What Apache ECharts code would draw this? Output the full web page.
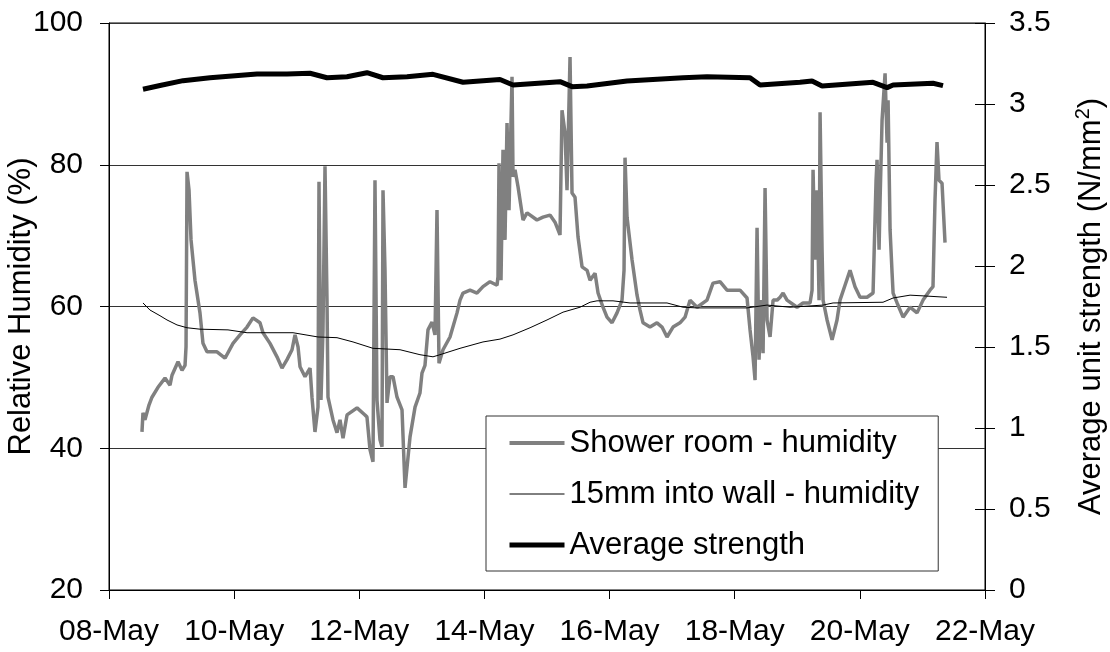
<!DOCTYPE html>
<html>
<head>
<meta charset="utf-8">
<script src="https://cdn.jsdelivr.net/npm/echarts@6/dist/echarts.min.js"></script>
<style>
html,body{margin:0;padding:0;background:#fff;}
#chart{width:1110px;height:652px;}
</style>
</head>
<body>
<div id="chart"></div>
<script>
// x values are days since 08-May 00:00
const dateLabels = ['08-May','10-May','12-May','14-May','16-May','18-May','20-May','22-May'];

const showerDay = [0.527,0.543,0.575,0.639,0.687,0.783,0.895,0.975,1.007,1.103,1.167,1.215,1.231,1.247,1.279,1.311,1.374,1.454,1.502,1.566,1.726,1.854,1.982,2.094,2.206,2.301,2.413,2.461,2.573,2.685,2.765,2.845,2.925,2.973,3.021,3.053,3.133,3.213,3.244,3.292,3.340,3.356,3.388,3.420,3.452,3.484,3.500,3.580,3.644,3.692,3.740,3.804,3.964,4.091,4.123,4.171,4.219,4.251,4.283,4.331,4.363,4.379,4.411,4.443,4.491,4.539,4.603,4.683,4.731,4.811,4.891,4.970,5.002,5.050,5.098,5.162,5.210,5.242,5.274,5.338,5.450,5.562,5.610,5.658,5.770,5.881,5.977,6.089,6.201,6.217,6.233,6.265,6.297,6.329,6.361,6.393,6.441,6.457,6.489,6.537,6.617,6.681,6.840,6.936,7.048,7.128,7.208,7.240,7.288,7.320,7.368,7.400,7.448,7.496,7.560,7.640,7.688,7.768,7.816,7.895,7.959,8.039,8.119,8.199,8.231,8.247,8.279,8.359,8.439,8.487,8.535,8.646,8.758,8.838,8.918,9.014,9.126,9.206,9.286,9.398,9.557,9.653,9.765,9.877,10.085,10.197,10.245,10.293,10.325,10.357,10.389,10.421,10.453,10.485,10.517,10.565,10.613,10.677,10.725,10.773,10.836,10.996,11.092,11.204,11.236,11.252,11.284,11.316,11.348,11.364,11.396,11.412,11.476,11.556,11.635,11.683,11.763,11.843,11.923,12.003,12.115,12.211,12.259,12.275,12.307,12.323,12.355,12.403,12.435,12.451,12.483,12.515,12.531,12.595,12.691,12.802,12.914,13.010,13.121,13.169,13.201,13.233,13.265,13.313,13.361];
const showerRH = [42.3,45.0,44.0,46.1,47.2,48.6,49.9,48.9,50.3,52.2,51.0,51.7,54.3,79.0,76.4,69.4,63.7,59.1,54.8,53.6,53.6,52.7,54.8,56.0,57.1,58.4,57.7,56.3,54.8,52.9,51.3,52.5,53.9,56.0,54.3,51.5,50.1,51.3,47.2,42.3,45.8,77.6,46.8,56.7,79.8,60.9,47.2,44.0,42.2,44.0,41.4,44.7,45.7,44.7,44.4,39.8,38.1,77.8,46.8,41.2,40.2,76.4,65.1,46.4,50.1,50.1,47.2,45.4,34.4,41.6,45.8,47.8,50.6,51.7,56.7,57.8,56.0,73.6,52.0,53.9,55.7,59.1,60.9,61.9,62.3,61.9,62.8,63.5,63.0,64.2,80.2,63.7,82.1,69.4,85.9,73.6,92.4,78.3,79.3,76.9,72.2,73.2,72.2,72.6,72.9,71.9,70.1,87.7,84.5,76.4,95.2,76.0,75.4,69.8,65.6,65.1,63.7,64.7,61.9,59.9,58.5,57.7,59.1,60.9,65.1,81.0,72.6,66.6,61.6,59.5,57.7,57.1,57.7,57.1,55.7,57.1,57.7,58.5,60.9,59.9,60.9,63.3,63.5,62.3,62.3,61.2,56.7,52.9,49.6,71.1,52.5,60.9,53.4,76.7,58.1,55.7,60.9,60.9,61.3,61.9,60.9,59.9,60.5,60.5,62.3,79.3,66.6,76.4,60.9,87.4,68.0,60.9,58.1,55.3,58.1,60.9,63.0,65.1,62.8,61.3,61.3,61.9,77.8,80.7,68.0,75.0,86.3,92.9,83.1,89.1,70.8,64.7,61.9,60.5,58.5,59.9,59.1,60.9,62.3,62.8,75.0,83.2,77.8,77.4,69.0];

const wallDay = [0.543,0.655,0.815,0.927,1.087,1.247,1.454,1.902,2.206,2.941,3.340,3.644,3.900,4.219,4.651,4.970,5.178,5.290,5.610,5.977,6.249,6.457,6.729,7.000,7.256,7.528,7.688,7.799,8.055,8.327,8.918,9.174,9.398,10.197,10.517,10.884,11.412,11.572,12.370,12.531,12.802,13.010,13.393];
const wallRH = [60.5,59.5,58.7,58.1,57.4,57.0,56.8,56.7,56.3,56.3,55.7,55.6,55.0,54.1,53.9,53.2,52.9,53.2,54.1,55.0,55.4,56.0,57.0,58.1,59.2,59.9,60.6,60.8,60.8,60.5,60.5,59.9,59.8,59.8,60.2,59.9,60.2,60.5,60.6,61.2,61.6,61.5,61.3];

const strengthDay = [0.543,0.815,1.183,1.614,2.365,2.845,3.212,3.484,3.804,4.123,4.379,4.763,5.178,5.658,6.249,6.457,7.208,7.400,7.640,8.279,9.174,9.557,10.245,10.405,11.044,11.236,11.396,12.211,12.435,12.531,13.169,13.329];
const strengthVal = [3.091,3.114,3.144,3.162,3.185,3.185,3.190,3.162,3.168,3.193,3.162,3.168,3.183,3.134,3.151,3.117,3.138,3.107,3.111,3.142,3.162,3.168,3.162,3.117,3.134,3.142,3.111,3.134,3.101,3.117,3.128,3.113];

const zip = (a, b) => a.map((v, i) => [v, b[i]]);
const FONT = 'Liberation Sans, Arial, sans-serif';

const chart = echarts.init(document.getElementById('chart'), null, {renderer: 'canvas'});
chart.setOption({
  animation: false,
  backgroundColor: '#fff',
  textStyle: {fontFamily: FONT, color: '#000'},
  grid: {left: 109, right: 125, top: 23, bottom: 62, show: true, borderColor: '#000', borderWidth: 1,
    containLabel: false, outerBoundsMode: 'none'},
  xAxis: {
    type: 'value', min: 0, max: 14, interval: 2,
    axisLine: {show: true, lineStyle: {color: '#000', width: 1}},
    axisTick: {show: true, inside: false, length: 9, lineStyle: {color: '#000'}},
    splitLine: {show: false},
    axisLabel: {fontFamily: FONT, fontSize: 30, color: '#000', margin: 27,
      formatter: v => dateLabels[Math.round(v / 2)]}
  },
  yAxis: [
    {
      type: 'value', min: 20, max: 100, interval: 20, position: 'left',
      name: 'Relative Humidity (%)', nameLocation: 'middle', nameRotate: 90, nameGap: 72,
      nameMoveOverlap: false,
      nameTextStyle: {fontFamily: FONT, fontSize: 31, color: '#000'},
      axisLine: {show: true, lineStyle: {color: '#000', width: 1}},
      axisTick: {show: true, inside: false, length: 9, lineStyle: {color: '#000'}},
      splitLine: {show: true, lineStyle: {color: '#333', width: 1}},
      axisLabel: {fontFamily: FONT, fontSize: 30, color: '#000', margin: 26}
    },
    {
      type: 'value', min: 0, max: 3.5, interval: 0.5, position: 'right',
      name: 'Average unit strength (N/mm{sup|2})', nameLocation: 'middle', nameRotate: 90, nameGap: 88,
      nameMoveOverlap: false,
      nameTextStyle: {fontFamily: FONT, fontSize: 31, color: '#000', lineHeight: 36,
        rich: {sup: {fontFamily: FONT, fontSize: 20, color: '#000', verticalAlign: 'top', lineHeight: 22}}},
      axisLine: {show: true, lineStyle: {color: '#000', width: 1}},
      axisTick: {show: true, inside: false, length: 10, lineStyle: {color: '#000'}},
      splitLine: {show: false},
      axisLabel: {fontFamily: FONT, fontSize: 30, color: '#000', margin: 24}
    },
    {
      type: 'value', min: 0, max: 3.5, interval: 0.5, position: 'right',
      axisLine: {show: false},
      axisTick: {show: true, inside: true, length: 10, lineStyle: {color: '#000'}},
      splitLine: {show: false},
      axisLabel: {show: false}
    }
  ],
  legend: {
    orient: 'vertical', left: 486, top: 416,
    padding: [11, 19, 10, 21],
    itemWidth: 55, itemHeight: 14, itemGap: 19,
    backgroundColor: '#fff', borderColor: '#333', borderWidth: 1,
    textStyle: {fontFamily: FONT, fontSize: 31, color: '#000', lineHeight: 32},
    data: [
      {name: 'Shower room - humidity', itemStyle: {opacity: 0}, lineStyle: {width: 4, color: '#808080'}},
      {name: '15mm into wall - humidity', itemStyle: {opacity: 0}, lineStyle: {width: 1, color: '#000'}},
      {name: 'Average strength', itemStyle: {opacity: 0}, lineStyle: {width: 5, color: '#000'}}
    ]
  },
  series: [
    {
      name: 'Shower room - humidity', type: 'line', yAxisIndex: 0,
      data: zip(showerDay, showerRH), symbol: 'none', showSymbol: false,
      lineStyle: {color: '#808080', width: 3.5}, itemStyle: {color: '#808080'}, z: 2
    },
    {
      name: '15mm into wall - humidity', type: 'line', yAxisIndex: 0,
      data: zip(wallDay, wallRH), symbol: 'none', showSymbol: false,
      lineStyle: {color: '#000', width: 1}, itemStyle: {color: '#000'}, z: 3
    },
    {
      name: 'Average strength', type: 'line', yAxisIndex: 1,
      data: zip(strengthDay, strengthVal), symbol: 'none', showSymbol: false,
      lineStyle: {color: '#000', width: 5}, itemStyle: {color: '#000'}, z: 4
    }
  ]
});
</script>
</body>
</html>
